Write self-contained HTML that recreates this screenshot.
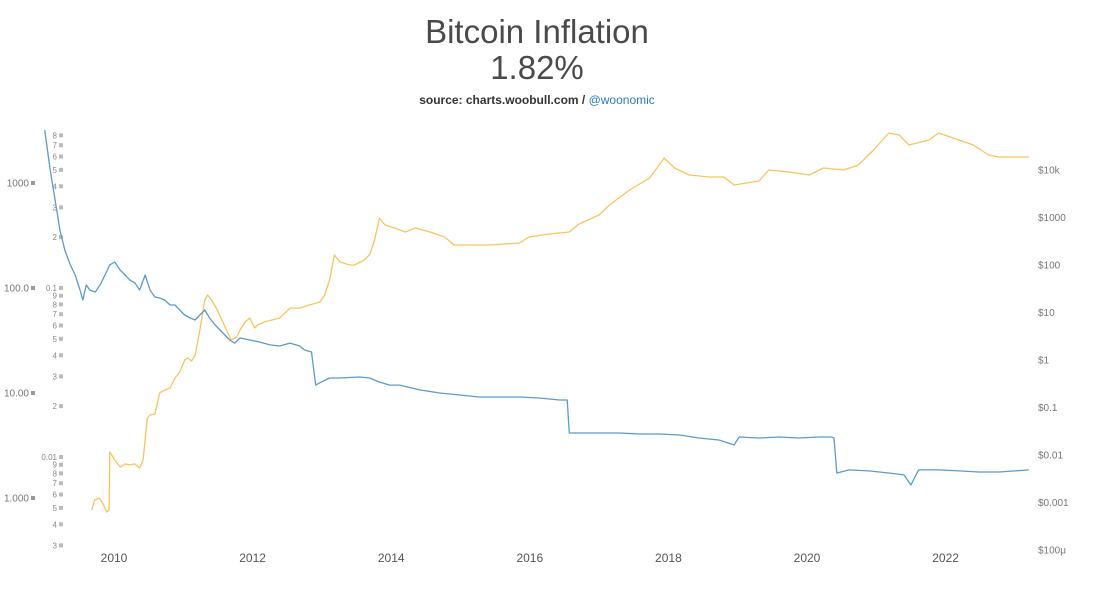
<!DOCTYPE html>
<html><head><meta charset="utf-8">
<style>
body{margin:0;background:#fff;font-family:"Liberation Sans",sans-serif;}
svg text{font-family:"Liberation Sans",sans-serif;}
</style></head>
<body>
<svg id="c" width="1100" height="586">
<text x="537" y="43" text-anchor="middle" font-size="33" fill="#4a4a4a">Bitcoin Inflation</text>
<text x="537" y="79" text-anchor="middle" font-size="33" fill="#4a4a4a">1.82%</text>
<text x="537" y="104" text-anchor="middle" font-size="12" font-weight="bold" fill="#333">source: charts.woobull.com / <tspan fill="#2a7bc4" font-weight="normal">@woonomic</tspan></text>
<g id="axes"></g>
<g id="series"></g>
</svg>
<script>
const years=[2010,2012,2014,2016,2018,2020,2022];
const inflTicks=[1000,100,10,1];
const inflTickLabels=["1000","100.0","10.00","1.000"];
const innerTicks=[0.8,0.7,0.6,0.5,0.4,0.3,0.2,0.1,0.09,0.08,0.07,0.06,0.05,0.04,0.03,0.02,0.01,0.009,0.008,0.007,0.006,0.005,0.004,0.003];
const innerTickLabels=["8","7","6","5","4","3","2","0.1","9","8","7","6","5","4","3","2","0.01","9","8","7","6","5","4","3"];
const priceTicks=[10000,1000,100,10,1,0.1,0.01,0.001,0.0001];
const priceTickLabels=["$10k","$1000","$100","$10","$1","$0.1","$0.01","$0.001","$100μ"];
const inflDates=[2009.0,2009.08,2009.15,2009.22,2009.29,2009.37,2009.44,2009.51,2009.55,2009.6,2009.65,2009.73,2009.8,2009.87,2009.94,2010.01,2010.09,2010.16,2010.23,2010.3,2010.37,2010.45,2010.52,2010.59,2010.66,2010.73,2010.81,2010.88,2010.95,2011.02,2011.1,2011.17,2011.24,2011.31,2011.38,2011.46,2011.53,2011.6,2011.67,2011.74,2011.82,2011.96,2012.1,2012.25,2012.39,2012.54,2012.68,2012.75,2012.85,2012.91,2012.97,2013.11,2013.26,2013.54,2013.69,2013.83,2013.98,2014.12,2014.41,2014.7,2014.99,2015.27,2015.56,2015.85,2016.14,2016.43,2016.54,2016.57,2016.71,2017.0,2017.29,2017.58,2017.87,2018.16,2018.44,2018.73,2018.95,2019.02,2019.31,2019.6,2019.88,2020.17,2020.35,2020.39,2020.43,2020.61,2020.89,2021.18,2021.4,2021.5,2021.61,2021.9,2022.19,2022.48,2022.77,2023.2];
const inflValues=[3200,1330,689,357,230,166,133,95.7,76.9,107,95.7,91.6,107,133,166,177,148,133,119,112,95.7,133,95.7,82,80.3,76.9,68.9,68.9,61.7,55.3,51.8,49.6,55.3,61.7,51.8,44.4,39.8,35.7,32,29.9,33.4,32,30.6,28.7,28,29.9,28,25.7,24.6,11.9,12.5,13.9,13.9,14.2,13.9,12.7,11.9,11.9,10.7,10,9.57,9.16,9.16,9.16,8.96,8.58,8.58,4.16,4.16,4.16,4.16,4.07,4.07,3.98,3.73,3.57,3.2,3.81,3.73,3.81,3.73,3.81,3.81,3.73,1.73,1.85,1.81,1.73,1.66,1.33,1.85,1.85,1.81,1.77,1.77,1.85];
const priceDates=[2009.68,2009.72,2009.79,2009.85,2009.89,2009.93,2009.94,2010.01,2010.09,2010.16,2010.23,2010.3,2010.37,2010.42,2010.48,2010.52,2010.59,2010.66,2010.73,2010.81,2010.88,2010.95,2011.02,2011.06,2011.12,2011.17,2011.24,2011.31,2011.35,2011.41,2011.49,2011.59,2011.69,2011.77,2011.82,2011.89,2011.96,2012.03,2012.07,2012.17,2012.39,2012.54,2012.68,2012.82,2012.97,2013.04,2013.11,2013.18,2013.26,2013.4,2013.47,2013.61,2013.69,2013.76,2013.83,2013.91,2014.05,2014.2,2014.35,2014.56,2014.77,2014.91,2015.06,2015.27,2015.42,2015.85,2015.99,2016.28,2016.57,2016.71,2017.0,2017.15,2017.44,2017.73,2017.94,2018.09,2018.3,2018.59,2018.8,2018.95,2019.31,2019.45,2019.74,2020.03,2020.24,2020.53,2020.74,2020.96,2021.18,2021.33,2021.47,2021.76,2021.9,2022.19,2022.4,2022.62,2022.77,2022.91,2023.2];
const priceValues=[0.0007,0.00113,0.00124,0.00089,0.00063,0.0007,0.0116,0.00785,0.0056,0.0065,0.0062,0.0065,0.0053,0.0078,0.06,0.0695,0.073,0.202,0.233,0.257,0.418,0.559,1,1.1,0.953,1.27,4.28,18.3,23.4,18.3,11.3,5.45,2.64,3.05,4.28,6.31,7.66,4.72,5.45,6.31,7.66,12.4,12.4,14.4,16.6,23.4,48.3,162,116,100,100,127,166,336,976,695,601,495,601,495,388,264,264,264,264,290,388,450,495,730,1130,1830,3790,6790,17900,11000,7850,7130,7130,4830,5900,10000,9080,7850,11000,10000,12700,26400,60100,54600,33600,42800,60100,42800,33600,20700,18800,18800,18800];
const xS=y=>114+(y-2010)*69.3;
const yInfl=v=>498-105*Math.log10(v);
const yInner=v=>288-169*(Math.log10(v)+1);
const yPrice=v=>360-47.5*Math.log10(v);
const NS="http://www.w3.org/2000/svg";
const ax=document.getElementById('axes'), se=document.getElementById('series');
function mk(tag,attrs,parent){const e=document.createElementNS(NS,tag);for(const k in attrs)e.setAttribute(k,attrs[k]);parent.appendChild(e);return e;}
years.forEach(yr=>{
 const t=mk('text',{x:xS(yr),y:562,'text-anchor':'middle','font-size':12,fill:'#555'},ax);t.textContent=yr;
 
 
});
inflTicks.forEach((v,i)=>{
 const y=yInfl(v);
 const t=mk('text',{x:29,y:y+3.5,'text-anchor':'end','font-size':10,fill:'#777'},ax);t.textContent=inflTickLabels[i];
 
 
 const r=mk('rect',{x:31,y:y-2,width:4,height:4,fill:'#999'},ax);
 
 
});
innerTicks.forEach((v,i)=>{
 const y=yInner(v);
 const t=mk('text',{x:57,y:y+3,'text-anchor':'end','font-size':8,fill:'#888'},ax);t.textContent=innerTickLabels[i];
 
 
 const r=mk('rect',{x:59,y:y-2,width:4,height:4,fill:'#bbb'},ax);
 
 
});
priceTicks.forEach((v,i)=>{
 const t=mk('text',{x:1038,y:yPrice(v)+3.5,'font-size':10,fill:'#777'},ax);t.textContent=priceTickLabels[i];
 
 
});
function line(d,v,ys,color,name){
 const pts=d.map((x,i)=>xS(x).toFixed(1)+','+ys(v[i]).toFixed(1)).join(' ');
 const p=mk('polyline',{points:pts,fill:'none',stroke:color,'stroke-width':1.3,'stroke-linejoin':'round'},se);
 
 
}
line(priceDates,priceValues,yPrice,'#fbc35f','price-line');
line(inflDates,inflValues,yInfl,'#5b9bd0','inflation-line');
</script>
</body></html>
